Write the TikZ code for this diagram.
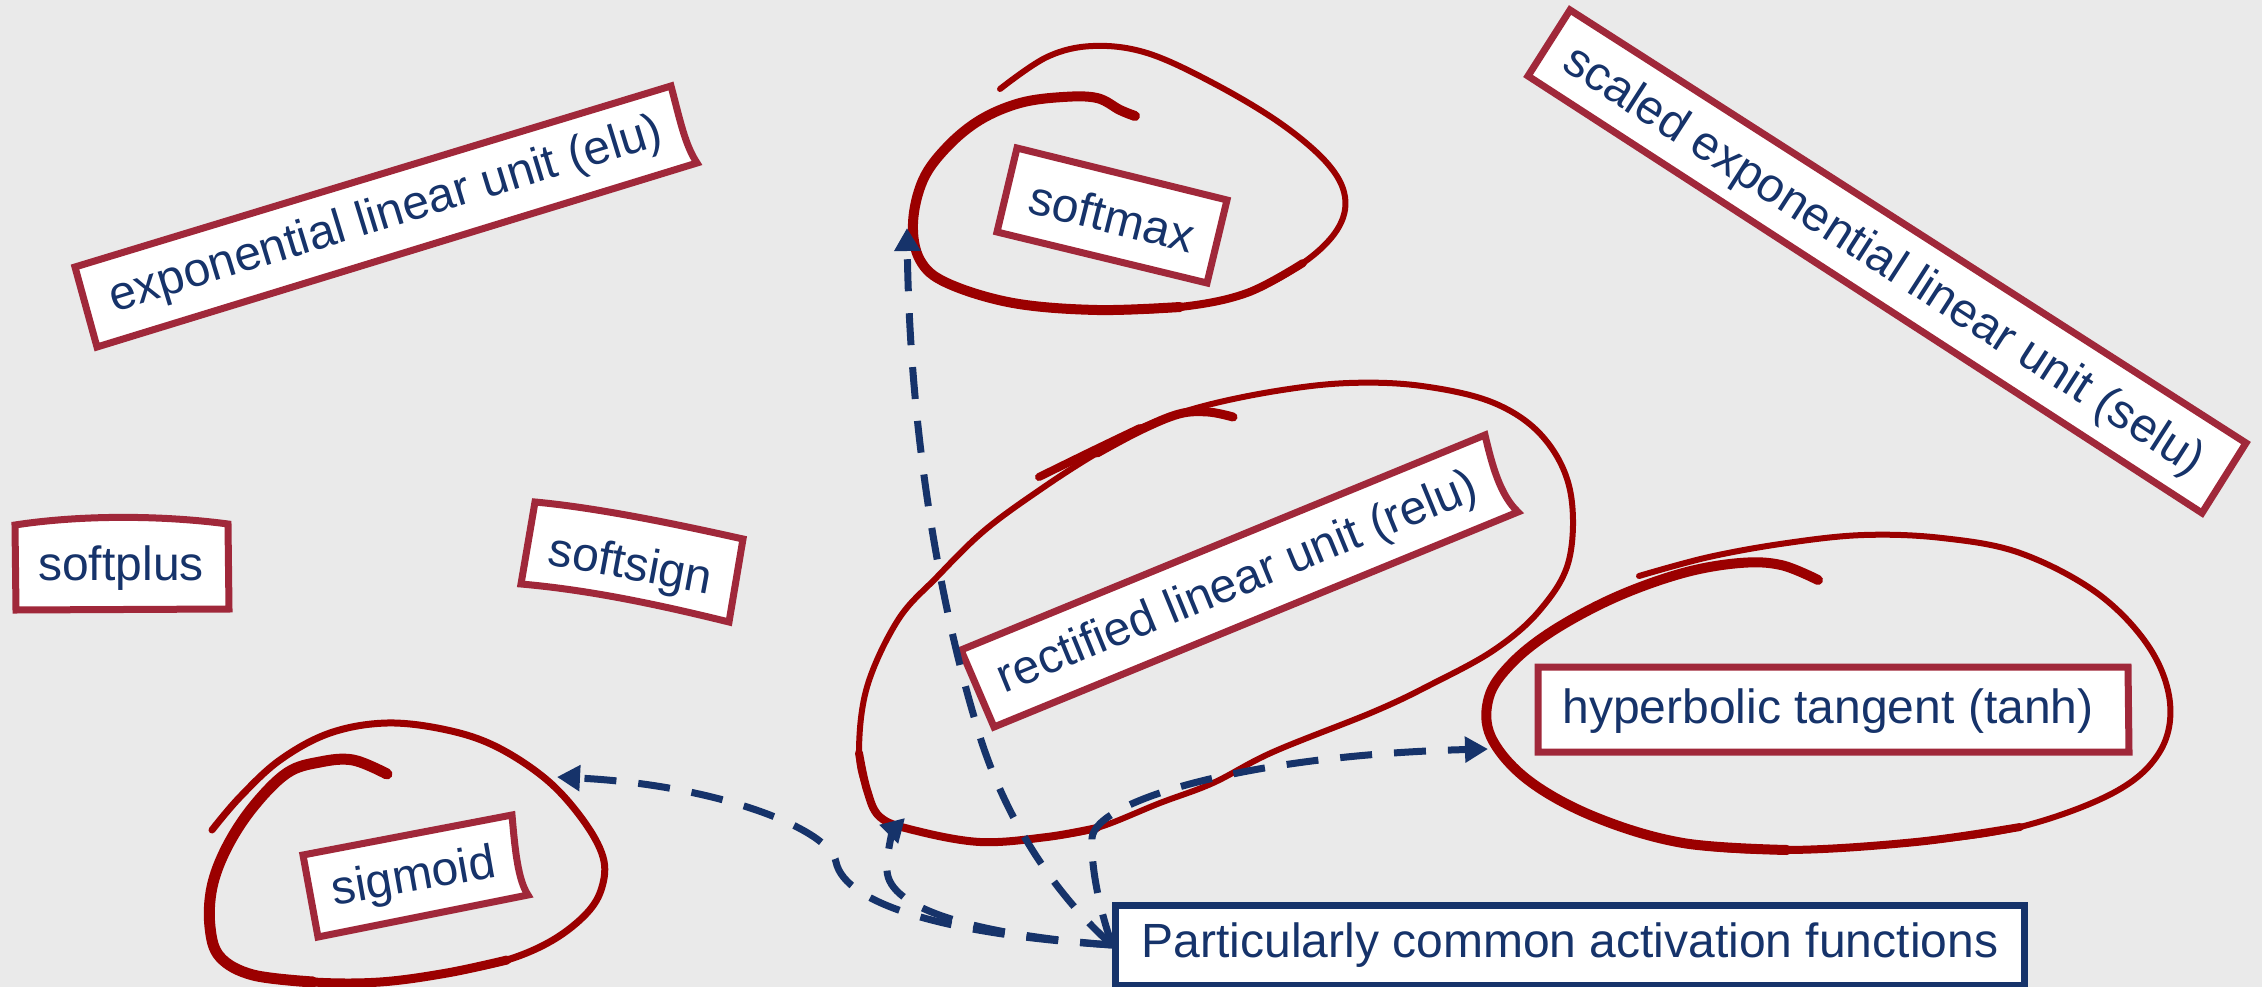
\documentclass[tikz,border=0pt]{standalone}
\usepackage{fontspec}
\setmainfont{Liberation Sans}
\usetikzlibrary{arrows.meta}
\definecolor{canvasgray}{HTML}{EAEAEA}
\definecolor{boxred}{RGB}{160,40,58}
\definecolor{loopred}{RGB}{155,0,0}
\definecolor{navy}{RGB}{22,51,106}
\tikzset{
  boxline/.style={draw=boxred, line width=7pt, fill=white, line join=miter},
  lbl/.style={text=navy, font=\fontsize{48}{56}\selectfont, inner sep=0pt},
  lasso/.style={draw=loopred, line cap=round, line join=round},
  conn/.style={draw=navy, line width=7pt, dash pattern=on 32pt off 22pt,
    -{Triangle[length=23pt,width=25pt]}},
  pcbox/.style={draw=navy, line width=7pt, fill=white, minimum width=909pt,
    minimum height=80pt, text=navy, font=\fontsize{48}{56}\selectfont, inner sep=0pt}
}
\begin{document}
\begin{tikzpicture}[x=1pt,y=-1pt]
\useasboundingbox (0,0) rectangle (2262,987);
\fill[canvasgray] (0,0) rectangle (2262,987);

% ---- hand-drawn loops (thin stroke, then heavier passes on the pressed parts) ----
% softmax
\draw[lasso, line width=6pt] plot[smooth, tension=0.6] coordinates {
  (1000,89) (1047,57) (1093,46) (1147,53) (1213,83) (1280,123) (1327,163)
  (1345,197) (1337,230) (1303,263) (1247,293) (1180,307) (1097,310) (1013,303)
  (947,283) (920,260) (913,223) (923,180) (947,147) (980,120) (1020,103)
  (1063,97) (1097,98) (1120,110) (1135,116)};
\draw[lasso, line width=8pt] plot[smooth, tension=0.6] coordinates {
  (1303,263) (1247,293) (1180,307) (1097,310) (1013,303)
  (947,283) (920,260) (913,223) (923,180) (947,147) (980,120) (1020,103)
  (1063,97) (1097,98) (1120,110) (1135,116)};
\draw[lasso, line width=10pt] plot[smooth, tension=0.6] coordinates {
  (1180,307) (1097,310) (1013,303)
  (947,283) (920,260) (913,223) (923,180) (947,147) (980,120) (1020,103)
  (1063,97) (1097,98) (1120,110) (1135,116)};

% sigmoid
\draw[lasso, line width=7pt] plot[smooth, tension=0.6] coordinates {
  (212,830) (240,797) (280,760) (330,733) (387,723) (447,730) (497,747)
  (547,780) (583,820) (603,857) (602,887) (587,913) (553,940) (507,960)
  (447,973) (380,982) (313,982) (253,975) (220,957) (210,927) (212,887)
  (227,847) (253,807) (287,773) (320,762) (353,760) (387,774)};
\draw[lasso, line width=9pt] plot[smooth, tension=0.6] coordinates {
  (507,960) (447,973) (380,982) (313,982) (253,975) (220,957) (210,927) (212,887)
  (227,847) (253,807) (287,773) (320,762) (353,760) (387,774)};
\draw[lasso, line width=11pt] plot[smooth, tension=0.6] coordinates {
  (313,982) (253,975) (220,957) (210,927) (212,887)
  (227,847) (253,807) (287,773) (320,762) (353,760) (387,774)};

% relu
\draw[lasso, line width=6pt] plot[smooth, tension=0.6] coordinates {
  (1039,477) (1090,452) (1140,428) (1200,407) (1276,391) (1349,383) (1422,386)
  (1494,403) (1543,437) (1570,490) (1569,560) (1540,610) (1494,650) (1430,685)
  (1373,712) (1273,752) (1213,783) (1160,803) (1097,828) (1047,837) (980,842)
  (913,830) (880,817) (867,790) (859,753) (867,687) (898,620) (937,577)
  (985,530) (1044,487) (1097,453) (1140,430) (1179,414) (1208,412) (1233,417)};
\draw[lasso, line width=8pt] plot[smooth, tension=0.6] coordinates {
  (1039,477) (1090,452) (1140,428)};
\draw[lasso, line width=8pt] plot[smooth, tension=0.6] coordinates {
  (1097,828) (1047,837) (980,842) (913,830) (880,817) (867,790) (859,753)};
\draw[lasso, line width=9pt] plot[smooth, tension=0.6] coordinates {
  (1097,453) (1140,430) (1179,414) (1208,412) (1233,417)};

% tanh
\draw[lasso, line width=6pt] plot[smooth, tension=0.6] coordinates {
  (1639,576) (1709,557) (1787,543) (1864,535) (1942,538) (2020,553) (2097,593)
  (2149,647) (2170,703) (2159,753) (2113,793) (2020,827) (1916,842) (1787,850)
  (1683,843) (1595,817) (1528,780) (1491,737) (1489,697) (1512,663) (1554,630)
  (1616,597) (1683,573) (1740,563) (1781,565) (1818,580)};
\draw[lasso, line width=8pt] plot[smooth, tension=0.6] coordinates {
  (2020,827) (1916,842) (1787,850)
  (1683,843) (1595,817) (1528,780) (1491,737) (1489,697) (1512,663) (1554,630)
  (1616,597) (1683,573) (1740,563) (1781,565) (1818,580)};
\draw[lasso, line width=10pt] plot[smooth, tension=0.6] coordinates {
  (1787,850)
  (1683,843) (1595,817) (1528,780) (1491,737) (1489,697) (1512,663) (1554,630)
  (1616,597) (1683,573) (1740,563) (1781,565) (1818,580)};

% ---- labelled boxes ----
\draw[boxline] (75,267) -- (671,86) .. controls (680,120) and (685,145) .. (697,163) -- (97,347) -- cycle;
\node[lbl, rotate=17] (elu) at (386,216) {exponential linear unit (elu)};

\draw[boxline] (1017,148) -- (1227,200) -- (1207,283) -- (997,232) -- cycle;
\node[lbl, rotate=-14] (softmax) at (1112,216) {softmax};

\draw[boxline] (1570,10) -- (2246,443) -- (2202,513) -- (1528,76) -- cycle;
\node[lbl, rotate=-32.8] (selu) at (1883,262) {scaled exponential linear unit (selu)};

\draw[boxline] (15,525) .. controls (80,515) and (160,515) .. (228,524) -- (229,609) -- (16,610) -- cycle;
\node[lbl] (softplus) at (121,568) {softplus};

\draw[boxline] (535,502) .. controls (600,508) and (680,525) .. (743,539) -- (729,622)
  .. controls (660,605) and (590,590) .. (521,584) -- cycle;
\node[lbl, rotate=-10.5] (softsign) at (630,567) {softsign};

\draw[boxline] (303,855) -- (512,815) .. controls (515,850) and (518,880) .. (528,895) -- (318,937) -- cycle;
\node[lbl, rotate=10] (sigmoid) at (414,879) {sigmoid};

\draw[boxline] (961,650) -- (1485,435) .. controls (1492,465) and (1500,495) .. (1518,512) -- (994,727) -- cycle;
\node[lbl, rotate=22.3] (relu) at (1238,584) {rectified linear unit (relu)};

\draw[boxline] (1538,667) -- (2128,667) -- (2129,752) -- (1538,752) -- cycle;
\node[lbl] (tanh) at (1828,711) {hyperbolic tangent (tanh)};

% ---- arrow targets on the loops ----
\coordinate (sigIn) at (557,777);
\coordinate (reluIn) at (905,818);
\coordinate (smIn) at (907,228);
\coordinate (tanhIn) at (1488,749);

% ---- summary box and its connectors ----
\node[pcbox] (pc) at (1570,945) {};
\draw[conn] (pc.west) .. controls (950,935) and (845,905) .. (836,862)
  .. controls (830,830) and (720,785) .. (sigIn);
\draw[conn] (pc.west) .. controls (980,935) and (888,910) .. (887,870)
  .. controls (887,845) and (895,828) .. (reluIn);
\draw[conn] (pc.west) .. controls (1050,890) and (1000,810) .. (975,720)
  .. controls (945,620) and (910,450) .. (smIn);
\draw[conn] (pc.west) .. controls (1100,910) and (1091,870) .. (1092,838)
  .. controls (1095,800) and (1250,755) .. (tanhIn);
\node[pcbox] at (pc.center) {Particularly common activation functions};
\end{tikzpicture}
\end{document}
